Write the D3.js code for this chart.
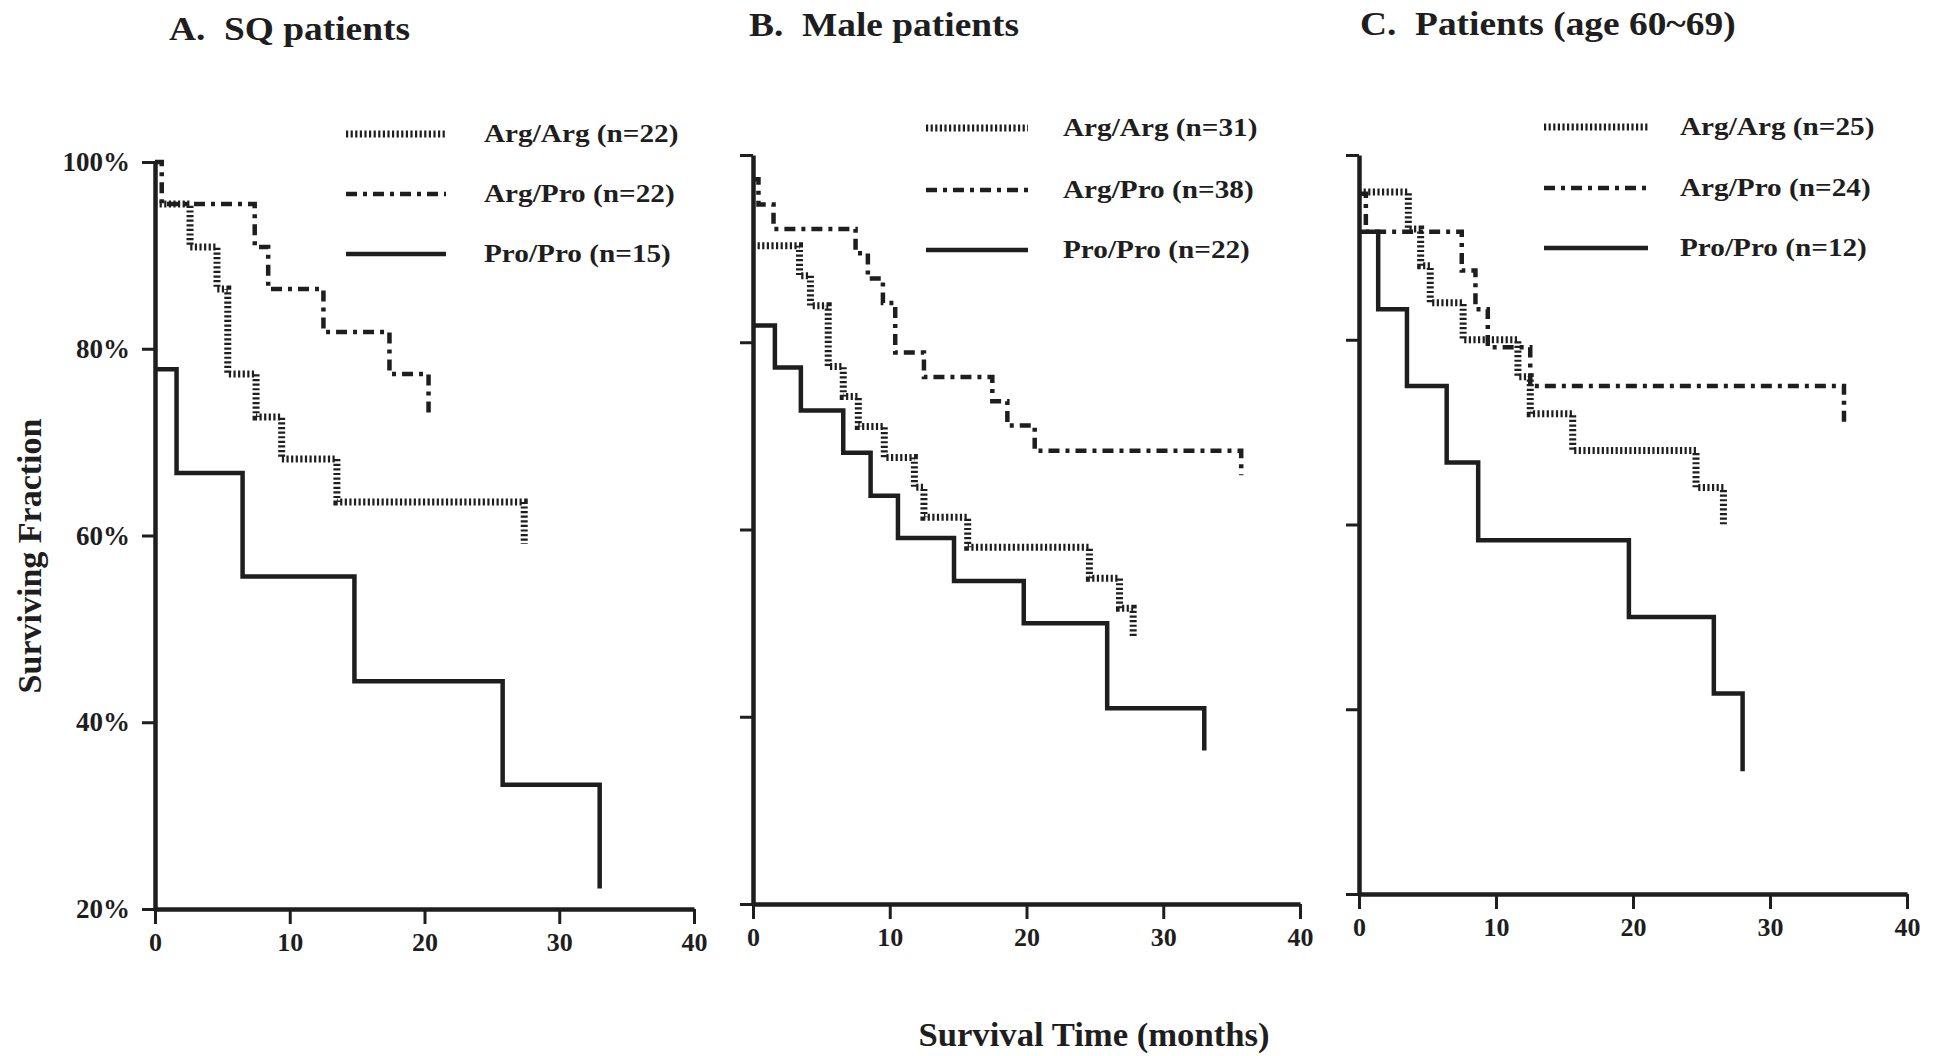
<!DOCTYPE html>
<html>
<head>
<meta charset="utf-8">
<script src="https://cdn.jsdelivr.net/npm/d3@7"></script>
<style>
  html, body { margin: 0; padding: 0; background: #fff; }
  svg { display: block; }
  text { font-family: "Liberation Serif", "Times New Roman", serif; font-weight: bold; fill: #1e1e1e; white-space: pre; }
</style>
</head>
<body>
<svg id="chart"></svg>
<script>
const width = 1938;
const height = 1056;

// genotype groups and panel titles
const groups = ["Arg/Arg", "Arg/Pro", "Pro/Pro"];
const panelTitles = ["A.  SQ patients", "B.  Male patients", "C.  Patients (age 60~69)"];
const nSQ = [22, 22, 15];
const nMale = [31, 38, 22];
const nAge = [25, 24, 12];

const xTicks = [0, 10, 20, 30, 40];
const yTicks = [20, 40, 60, 80, 100];

// Kaplan-Meier steps: [months, surviving %]
const sqArgArg = [[0, 95.5], [2.6, 90.9], [4.6, 86.4], [5.4, 77.3], [7.5, 72.7], [9.4, 68.2], [13.5, 63.6], [27.4, 59.1]];
const sqArgPro = [[0, 100], [0.5, 95.5], [7.4, 90.9], [8.4, 86.4], [12.5, 81.8], [17.4, 77.3], [20.3, 72.7]];
const sqProPro = [[0, 77.8], [1.6, 66.7], [6.5, 55.6], [14.8, 44.4], [25.8, 33.3], [33, 22.2]];

const maleArgArg = [[0, 90.3], [3.4, 87.1], [4.2, 83.9], [5.5, 77.4], [6.6, 74.2], [7.7, 71.0], [9.6, 67.7], [11.8, 64.5], [12.5, 61.3], [15.7, 58.1], [24.6, 54.8], [26.8, 51.6], [27.8, 48.4]];
const maleArgPro = [[0, 97.4], [0.4, 94.7], [1.5, 92.1], [7.5, 89.5], [8.4, 86.8], [9.5, 84.2], [10.4, 78.9], [12.5, 76.3], [17.5, 73.7], [18.6, 71.1], [20.6, 68.4], [35.7, 65.8]];
const maleProPro = [[0, 81.8], [1.6, 77.3], [3.5, 72.7], [6.6, 68.2], [8.6, 63.6], [10.6, 59.1], [14.7, 54.5], [19.8, 50.0], [25.9, 40.9], [33, 36.4]];

const ageArgArg = [[0, 96], [3.6, 92], [4.5, 88], [5.2, 84], [7.6, 80], [11.6, 76], [12.5, 72], [15.6, 68], [24.6, 64], [26.6, 60]];
const ageArgPro = [[0, 95.8], [0.5, 91.7], [7.5, 87.5], [8.5, 83.3], [9.4, 79.2], [12.5, 75], [35.4, 70.8]];
const ageProPro = [[0, 91.7], [1.4, 83.3], [3.5, 75], [6.4, 66.7], [8.7, 58.3], [19.7, 50], [25.9, 41.7], [28, 33.3]];

const panelCounts = [nSQ, nMale, nAge];
const panelSeries = [
    [sqArgArg, sqArgPro, sqProPro],
    [maleArgArg, maleArgPro, maleProPro],
    [ageArgArg, ageArgPro, ageProPro]
];

// where each panel sits on the page
const layout = [
    {left: 155, right: 694, top: 162, bottom: 909, titleX: 169, titleY: 40, legX: 346, legW: 100, txtX: 484, legY: [134, 194, 254]},
    {left: 753, right: 1300, top: 155, bottom: 904, titleX: 749, titleY: 36, legX: 926, legW: 102, txtX: 1063, legY: [128, 190, 250]},
    {left: 1359, right: 1907, top: 155, bottom: 894, titleX: 1360, titleY: 35, legX: 1544, legW: 104, txtX: 1680, legY: [127, 188, 248]}
];

const ink = "#1e1e1e";
const lineStyles = [
    {w: 7, dash: "2.2,2.4"},
    {w: 4.5, dash: "11,6,4,6"},
    {w: 4.5, dash: null}
];

const svg = d3.select("#chart")
    .attr("width", width)
    .attr("height", height);

panelSeries.forEach(function(series, p) {
    const L = layout[p];
    const g = svg.append("g");

    const x = d3.scaleLinear().domain([0, 40]).range([L.left, L.right]);
    const y = d3.scaleLinear().domain([20, 100]).range([L.bottom, L.top]);

    const line = d3.line()
        .x(d => x(d[0]))
        .y(d => y(d[1]))
        .curve(d3.curveStepAfter);

    // x axis
    const xa = g.append("g")
        .attr("transform", `translate(0,${L.bottom})`)
        .call(d3.axisBottom(x).tickValues(xTicks).tickSize(15).tickSizeOuter(0).tickPadding(9));
    xa.select(".domain").attr("stroke", ink).attr("stroke-width", 4.5);
    xa.selectAll(".tick line").attr("stroke", ink).attr("stroke-width", 3);
    xa.selectAll(".tick text")
        .attr("font-size", 26)
        .attr("fill", ink);
    xa.attr("font-family", null).attr("font-size", null);

    // y axis (labels only on the first panel)
    const ya = g.append("g")
        .attr("transform", `translate(${L.left},0)`)
        .call(d3.axisLeft(y).tickValues(yTicks).tickSize(13).tickSizeOuter(0).tickPadding(12)
            .tickFormat(p === 0 ? d => d + "%" : () => ""));
    ya.select(".domain").attr("stroke", ink).attr("stroke-width", 4.5);
    ya.selectAll(".tick line").attr("stroke", ink).attr("stroke-width", 3);
    ya.selectAll(".tick text")
        .attr("font-size", 27)
        .attr("fill", ink);
    ya.attr("font-family", null).attr("font-size", null);

    // survival curves
    series.forEach(function(s, i) {
        g.append("path")
            .datum(s)
            .attr("d", line)
            .attr("fill", "none")
            .attr("stroke", ink)
            .attr("stroke-width", lineStyles[i].w)
            .attr("stroke-dasharray", lineStyles[i].dash)
            .attr("stroke-linejoin", "miter");
    });

    // title
    g.append("text")
        .attr("transform", `translate(${L.titleX},${L.titleY}) scale(1.1,1)`)
        .attr("font-size", 34)
        .text(panelTitles[p]);

    // legend
    groups.forEach(function(name, i) {
        g.append("line")
            .attr("x1", L.legX).attr("x2", L.legX + L.legW)
            .attr("y1", L.legY[i]).attr("y2", L.legY[i])
            .attr("stroke", ink)
            .attr("stroke-width", lineStyles[i].w)
            .attr("stroke-dasharray", lineStyles[i].dash);
        g.append("text")
            .attr("transform", `translate(${L.txtX},${L.legY[i] + 8}) scale(1.17,1)`)
            .attr("font-size", 25)
            .text(`${name} (n=${panelCounts[p][i]})`);
    });
});

// shared axis titles
svg.append("text")
    .attr("transform", "translate(41,556) rotate(-90)")
    .attr("text-anchor", "middle")
    .attr("font-size", 34)
    .text("Surviving Fraction");

svg.append("text")
    .attr("transform", "translate(1094,1046) scale(1.02,1)")
    .attr("text-anchor", "middle")
    .attr("font-size", 34)
    .text("Survival Time (months)");
</script>
</body>
</html>
